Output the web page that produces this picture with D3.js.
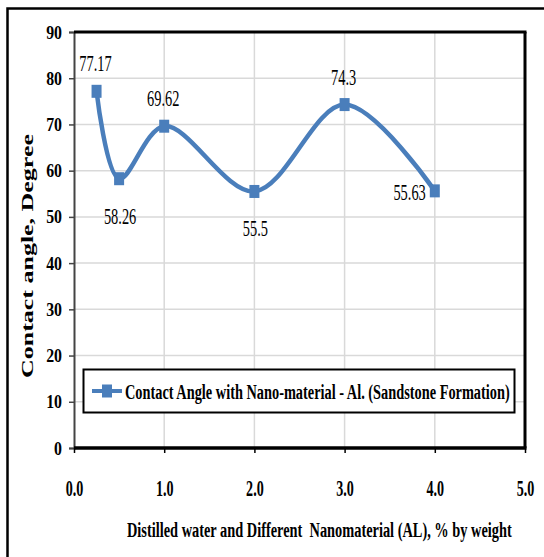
<!DOCTYPE html>
<html><head><meta charset="utf-8">
<script src="https://cdn.jsdelivr.net/npm/d3@7"></script>
<style>body{margin:0;background:#fff}svg{display:block}</style>
</head><body>
<svg id="c" width="544" height="557"></svg>
<script>
const xValues = [0.25, 0.5, 1.0, 2.0, 3.0, 4.0];
const angleValues = [77.17, 58.26, 69.62, 55.5, 74.3, 55.63];
const labelPlacement = ["above", "below", "above", "below", "above", "left"];
const xTicks = [0, 1, 2, 3, 4, 5];
const yTicks = [0, 10, 20, 30, 40, 50, 60, 70, 80, 90];
const seriesName = "Contact Angle with Nano-material - Al. (Sandstone Formation)";
const xTitle = "Distilled water and Different  Nanomaterial (AL), % by weight";
const yTitle = "Contact angle, Degree";

const svg = d3.select("#c");
const color = "#4a7ebb";
const serif = "'Liberation Serif','Times New Roman',serif";
const L = 74, R = 525, T = 32, B = 448;
const x = d3.scaleLinear().domain([0, 5]).range([L, R]);
const y = d3.scaleLinear().domain([0, 90]).range([B, T]);

// compress text horizontally by factor f (or to target width) using a transform
function squeeze(sel, f, target) {
  sel.each(function () {
    const tx = +this.getAttribute("x") || 0, ty = +this.getAttribute("y") || 0;
    const w = this.getComputedTextLength();
    const k = target ? target / w : f;
    this.setAttribute("x", 0); this.setAttribute("y", 0);
    this.setAttribute("transform", `translate(${tx},${ty}) scale(${k.toFixed(3)},1)`);
  });
}

// outer frame
svg.append("rect").attr("x", 7.5).attr("y", 8.5).attr("width", 600).attr("height", 600)
  .attr("fill", "none").attr("stroke", "#000").attr("stroke-width", 2.5);

// gridlines
svg.append("g").selectAll("line").data(yTicks.filter(d => d > 0)).join("line")
  .attr("x1", L).attr("x2", R).attr("y1", d => y(d)).attr("y2", d => y(d))
  .attr("stroke", "#d9d9d9").attr("stroke-width", 1.5);
svg.append("g").selectAll("line").data(xTicks.filter(d => d > 0 && d < 5)).join("line")
  .attr("y1", T).attr("y2", B).attr("x1", d => x(d)).attr("x2", d => x(d))
  .attr("stroke", "#d9d9d9").attr("stroke-width", 1.5);

// axes
const yAxis = svg.append("g").attr("transform", `translate(${L},0)`)
  .call(d3.axisLeft(y).tickValues(yTicks).tickSize(5).tickFormat(d3.format("d")));
yAxis.select(".domain").attr("stroke", "#444").attr("stroke-width", 2);
yAxis.selectAll(".tick line").attr("stroke", "#444").attr("stroke-width", 1.5);
yAxis.selectAll("text").attr("font-family", serif).attr("font-weight", "bold")
  .attr("font-size", 18).attr("fill", "#000").attr("dy", null).attr("x", -12).attr("y", 6);
squeeze(yAxis.selectAll("text"), 0.88);

const xAxis = svg.append("g").attr("transform", `translate(0,${B})`)
  .call(d3.axisBottom(x).tickValues(xTicks).tickSize(5).tickFormat(d3.format(".1f")));
xAxis.select(".domain").remove();
xAxis.selectAll(".tick line").attr("stroke", "#000").attr("stroke-width", 1.5);
xAxis.selectAll("text").attr("font-family", serif).attr("font-weight", "bold")
  .attr("font-size", 23.5).attr("fill", "#000").attr("dy", null).attr("x", 0).attr("y", 48);
squeeze(xAxis.selectAll("text"), 0.6);

// plot frame: top, right, bottom
svg.append("line").attr("x1", L).attr("x2", R + 1.5).attr("y1", T).attr("y2", T)
  .attr("stroke", "#000").attr("stroke-width", 3);
svg.append("line").attr("x1", R).attr("x2", R).attr("y1", T).attr("y2", B)
  .attr("stroke", "#000").attr("stroke-width", 3);
svg.append("line").attr("x1", L).attr("x2", R + 1.5).attr("y1", B).attr("y2", B)
  .attr("stroke", "#000").attr("stroke-width", 3.5);

// series
const pts = xValues.map((v, i) => [v, angleValues[i]]);
const line = d3.line().x(d => x(d[0])).y(d => y(d[1])).curve(d3.curveCatmullRom.alpha(0.5));
svg.append("path").datum(pts).attr("d", line).attr("fill", "none")
  .attr("stroke", color).attr("stroke-width", 4.5).attr("stroke-linejoin", "round");
svg.append("g").selectAll("rect").data(pts).join("rect")
  .attr("x", d => x(d[0]) - 5).attr("y", d => y(d[1]) - 6.5).attr("width", 10).attr("height", 13)
  .attr("fill", color);

// data labels
const lab = svg.append("g").selectAll("text").data(pts).join("text")
  .attr("font-family", serif).attr("font-size", 22.5).attr("fill", "#000")
  .attr("text-anchor", (d, i) => labelPlacement[i] === "left" ? "end" : "middle")
  .attr("x", (d, i) => labelPlacement[i] === "left" ? x(d[0]) - 9 : x(d[0]) + (labelPlacement[i] === "below" ? 1 : -1))
  .attr("y", (d, i) => {
    const p = labelPlacement[i];
    if (p === "above") return y(d[1]) - 20;
    if (p === "below") return y(d[1]) + 45;
    return y(d[1]) + 9;
  })
  .text(d => d[1]);
squeeze(lab, 0.64);

// legend
const lg = svg.append("g");
lg.append("rect").attr("x", 83.5).attr("y", 369.5).attr("width", 431).attr("height", 43)
  .attr("fill", "#fff").attr("stroke", "#000").attr("stroke-width", 2);
lg.append("line").attr("x1", 92).attr("x2", 122).attr("y1", 391).attr("y2", 391)
  .attr("stroke", color).attr("stroke-width", 4);
lg.append("rect").attr("x", 102).attr("y", 384.5).attr("width", 10).attr("height", 13).attr("fill", color);
const lgText = lg.append("text").attr("x", 125).attr("y", 399).attr("font-family", serif).attr("font-weight", "bold")
  .attr("font-size", 22).attr("fill", "#000").text(seriesName);
squeeze(lgText, null, 385);

// axis titles
const xt = svg.append("text").attr("x", 127).attr("y", 537).attr("font-family", serif).attr("font-weight", "bold")
  .attr("font-size", 21).attr("fill", "#000").attr("xml:space", "preserve").text(xTitle);
squeeze(xt, null, 385);
const yt = svg.append("text").attr("text-anchor", "middle")
  .attr("font-family", serif).attr("font-weight", "bold").attr("font-size", 17).attr("fill", "#000")
  .text(yTitle);
{
  const w = yt.node().getComputedTextLength();
  yt.attr("transform", `translate(33,256) rotate(-90) scale(${(244 / w).toFixed(3)},1)`);
}
</script>
</body></html>
